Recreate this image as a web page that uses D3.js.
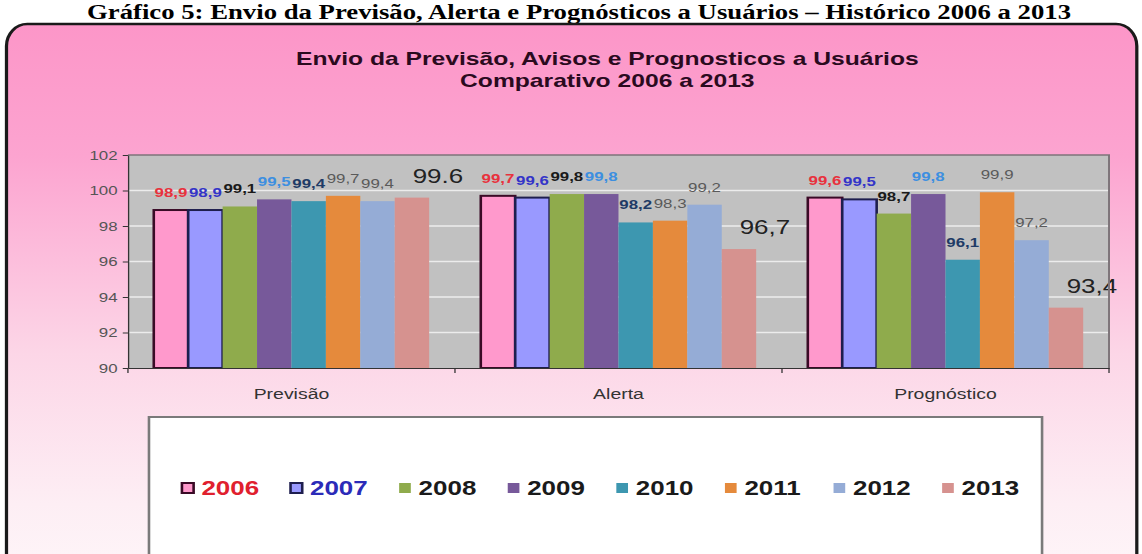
<!DOCTYPE html>
<html>
<head>
<meta charset="utf-8">
<script src="https://cdn.jsdelivr.net/npm/d3@7"></script>
<style>
  body { margin: 0; background: #fff; }
  svg { display: block; font-family: Arial, "Liberation Sans", sans-serif; }
</style>
</head>
<body>
<svg id="chart" width="1142" height="554"></svg>
<script>
const heading = "Gráfico 5: Envio da Previsão, Alerta e Prognósticos a Usuários – Histórico 2006 a 2013";
const titleLines = ["Envio da Previsão, Avisos e Prognosticos a Usuários", "Comparativo 2006 a 2013"];

const categories = ["Previsão", "Alerta", "Prognóstico"];
const years = ["2006", "2007", "2008", "2009", "2010", "2011", "2012", "2013"];

// one array per year, in the order of categories
const s2006 = [98.9, 99.7, 99.6];
const s2007 = [98.9, 99.6, 99.5];
const s2008 = [99.1, 99.8, 98.7];
const s2009 = [99.5, 99.8, 99.8];
const s2010 = [99.4, 98.2, 96.1];
const s2011 = [99.7, 98.3, 99.9];
const s2012 = [99.4, 99.2, 97.2];
const s2013 = [99.6, 96.7, 93.4];
const series = [s2006, s2007, s2008, s2009, s2010, s2011, s2012, s2013];

const yTicks = [90, 92, 94, 96, 98, 100, 102];
// labels the original writes with a dot instead of a comma
const dotLabels = [["Previsão", "2013"]];

// styles
const barColors = ["#ff99cc", "#9999ff", "#8fab4c", "#77599a", "#3d97b0", "#e58a3c", "#95acd6", "#d6928f"];
const barStroke = ["#3a0a26", "#1e1e4e", null, null, null, null, null, null];
const labelColor = ["#e8313d", "#3434c8", "#1a1a1a", "#3d8fe0", "#1f3b66", "#5a5a5a", "#5a5a5a", "#222"];
const labelWeight = ["bold", "bold", "bold", "bold", "bold", "normal", "normal", "normal"];
const labelSize = [13, 13, 13, 13, 13, 13, 13, 20];
const labelDx = [0, 0, 0, 0, 0, 0, 0, 20];
const legendColor = ["#e0202e", "#2b2bb8", "#1a1a1a", "#1a1a1a", "#1a1a1a", "#1a1a1a", "#1a1a1a", "#1a1a1a"];

const svg = d3.select("#chart"),
  width = +svg.attr("width"),
  height = +svg.attr("height");

// page heading (document text, not stretched)
svg.append("text")
  .attr("x", 579).attr("y", 19)
  .attr("text-anchor", "middle")
  .attr("font-family", "'Liberation Serif', 'Times New Roman', serif")
  .attr("font-weight", "bold")
  .attr("font-size", 20)
  .attr("textLength", 984)
  .attr("lengthAdjust", "spacingAndGlyphs")
  .attr("fill", "#000")
  .text(heading);

// the chart picture itself is stretched horizontally
const sx = 1.2977;
const g = svg.append("g").attr("transform", `scale(${sx},1)`);
const vw = width / sx;

const defs = svg.append("defs");
const grad = defs.append("linearGradient")
  .attr("id", "panelFill")
  .attr("x1", 0).attr("y1", 0).attr("x2", 0).attr("y2", 1);
grad.append("stop").attr("offset", "0%").attr("stop-color", "#fc96c8");
grad.append("stop").attr("offset", "22%").attr("stop-color", "#fca4d0");
grad.append("stop").attr("offset", "55%").attr("stop-color", "#fcd6e7");
grad.append("stop").attr("offset", "80%").attr("stop-color", "#fdeef4");
grad.append("stop").attr("offset", "100%").attr("stop-color", "#fffafc");

g.append("rect")
  .attr("x", 5).attr("y", 24)
  .attr("width", vw - 9).attr("height", 600)
  .attr("rx", 16).attr("ry", 22)
  .attr("fill", "url(#panelFill)")
  .attr("stroke", "#1a1a1a")
  .attr("stroke-width", 2.5);

// chart title
g.append("g")
  .selectAll("text")
  .data(titleLines)
  .enter().append("text")
  .attr("x", 468)
  .attr("y", (d, i) => 65 + i * 22)
  .attr("text-anchor", "middle")
  .attr("font-weight", "bold")
  .attr("font-size", 19)
  .attr("fill", "#2a0a1e")
  .text(d => d);

const plot = { left: 98.6, right: 854.6, top: 155, bottom: 368 };

const x0 = d3.scaleBand()
  .domain(categories)
  .range([plot.left, plot.right]);

const x1 = d3.scaleBand()
  .domain(years)
  .range([x0.bandwidth() * 0.75 / 9.5, x0.bandwidth() * 8.75 / 9.5]);

const y = d3.scaleLinear()
  .domain([90, 102])
  .range([plot.bottom, plot.top]);

// plot background
g.append("rect")
  .attr("x", plot.left).attr("y", plot.top)
  .attr("width", plot.right - plot.left).attr("height", plot.bottom - plot.top)
  .attr("fill", "#c1c1c1");

g.append("g")
  .selectAll("line")
  .data(yTicks.filter(t => t > 90 && t < 102))
  .enter().append("line")
  .attr("x1", plot.left).attr("x2", plot.right)
  .attr("y1", d => y(d)).attr("y2", d => y(d))
  .attr("stroke", "#ececec")
  .attr("stroke-width", 1.5);

// bars
const rows = categories.map((c, ci) => ({ category: c, values: years.map((yr, si) => ({ year: yr, si, value: series[si][ci], category: c })) }));

const groups = g.selectAll(".cat")
  .data(rows)
  .enter().append("g")
  .attr("class", "cat")
  .attr("transform", d => `translate(${x0(d.category)},0)`);

groups.selectAll("rect")
  .data(d => d.values)
  .enter().append("rect")
  .attr("x", d => x1(d.year))
  .attr("y", d => y(d.value))
  .attr("width", x1.bandwidth())
  .attr("height", d => y(90) - y(d.value))
  .attr("fill", d => barColors[d.si])
  .attr("stroke", d => barStroke[d.si] || "none")
  .attr("stroke-width", 2);

// plot frame (top and right)
g.append("path")
  .attr("d", `M${plot.left},${plot.top}H${plot.right}V${plot.bottom}`)
  .attr("fill", "none")
  .attr("stroke", "#7d7479")
  .attr("stroke-width", 1.5);

// y axis
const yAxis = g.append("g")
  .attr("transform", `translate(${plot.left},0)`)
  .call(d3.axisLeft(y).tickValues(yTicks).tickSize(4).tickSizeOuter(0).tickPadding(4));
yAxis.select(".domain").attr("stroke", "#333");
yAxis.selectAll(".tick line").attr("stroke", "#333");
yAxis.selectAll(".tick text")
  .attr("font-size", 13)
  .attr("font-family", "Arial, 'Liberation Sans', sans-serif")
  .attr("fill", "#555");

// x axis: labels centred, ticks at category boundaries
const xAxis = g.append("g")
  .attr("transform", `translate(0,${plot.bottom})`)
  .call(d3.axisBottom(x0).tickSize(0).tickPadding(20));
xAxis.select(".domain").attr("stroke", "#333");
xAxis.selectAll(".tick text")
  .attr("font-size", 15)
  .attr("font-family", "Arial, 'Liberation Sans', sans-serif")
  .attr("fill", "#333");

g.append("g")
  .selectAll("line")
  .data(categories.map(c => x0(c)).concat([plot.right]))
  .enter().append("line")
  .attr("x1", d => d).attr("x2", d => d)
  .attr("y1", plot.bottom).attr("y2", plot.bottom + 5)
  .attr("stroke", "#333");

// value labels
const fmt = d3.format(".1f");
const isDot = d => dotLabels.some(p => p[0] === d.category && p[1] === d.year);

groups.selectAll(".val")
  .data(d => d.values)
  .enter().append("text")
  .attr("class", "val")
  .attr("x", d => x1(d.year) + x1.bandwidth() / 2 + labelDx[d.si])
  .attr("y", d => y(d.value) - (d.si === 7 ? 15 : 13))
  .attr("text-anchor", "middle")
  .attr("font-size", d => labelSize[d.si])
  .attr("font-weight", d => labelWeight[d.si])
  .attr("fill", d => labelColor[d.si])
  .text(d => isDot(d) ? fmt(d.value) : fmt(d.value).replace(".", ","));

// legend
g.append("rect")
  .attr("x", 114.8).attr("y", 417)
  .attr("width", 803 - 114.8).attr("height", 200)
  .attr("fill", "#fff")
  .attr("stroke", "#7a7a7a")
  .attr("stroke-width", 2);

const lx = d3.scalePoint()
  .domain(years)
  .range([140.2, 726]);

const items = g.append("g")
  .selectAll("g")
  .data(years)
  .enter().append("g")
  .attr("transform", d => `translate(${lx(d)},488)`);

items.append("rect")
  .attr("x", 0).attr("y", -5)
  .attr("width", 9).attr("height", 10)
  .attr("fill", (d, i) => barColors[i])
  .attr("stroke", (d, i) => barStroke[i] || "none")
  .attr("stroke-width", 2);

items.append("text")
  .attr("x", 15).attr("y", 7)
  .attr("font-size", 20)
  .attr("font-weight", "bold")
  .attr("fill", (d, i) => legendColor[i])
  .text(d => d);
</script>
</body>
</html>
